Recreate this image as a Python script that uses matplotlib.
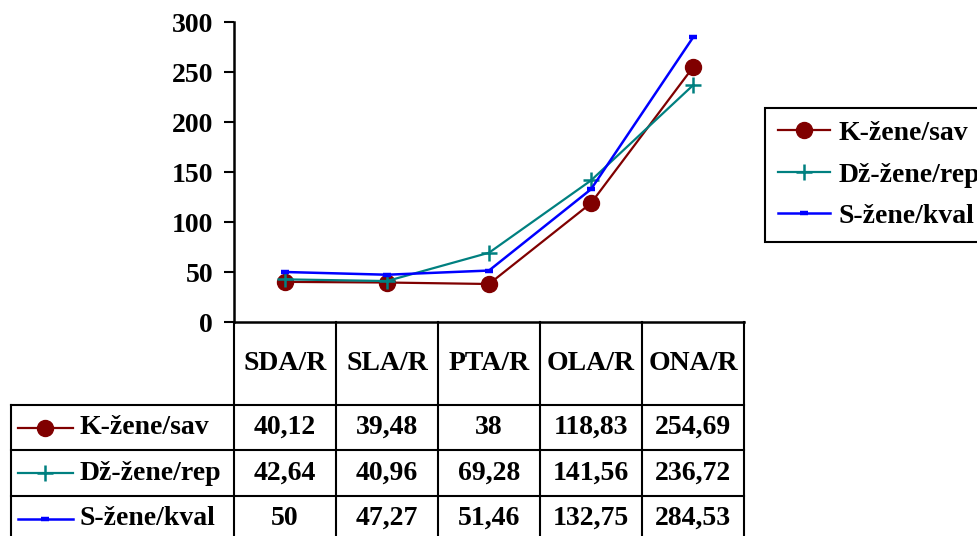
import matplotlib
matplotlib.use('Agg')
import matplotlib.pyplot as plt
from matplotlib.lines import Line2D
import matplotlib.transforms as mtransforms

plt.rcParams['font.family'] = ['Liberation Serif', 'DejaVu Serif']
plt.rcParams['font.weight'] = 'bold'

# podaci
categories = ['SDA/R', 'SLA/R', 'PTA/R', 'OLA/R', 'ONA/R']
k_zene_sav = [40.12, 39.48, 38, 118.83, 254.69]
dz_zene_rep = [42.64, 40.96, 69.28, 141.56, 236.72]
s_zene_kval = [50, 47.27, 51.46, 132.75, 284.53]
series_names = ['K-žene/sav', 'Dž-žene/rep', 'S-žene/kval']
y_ticks = [0, 50, 100, 150, 200, 250, 300]

series = [k_zene_sav, dz_zene_rep, s_zene_kval]
styles = [
    dict(color='#800000', marker='o', markersize=11.5, lw=1.6),
    dict(color='#008080', marker='+', markersize=11, mew=1.8, lw=1.6),
    dict(color='#0000FF', marker='_', markersize=5.5, mew=3.2, lw=1.8),
]

W, H = 978, 536
fig = plt.figure(figsize=(W / 100, H / 100), dpi=100)
ax = fig.add_axes([234 / W, (H - 322) / H, 510 / W, 300 / H])

x = list(range(len(categories)))
for vals, name, st in zip(series, series_names, styles):
    ax.plot(x, vals, label=name, clip_on=False, **st)

ax.set_xlim(-0.5, len(categories) - 0.5)
ax.set_ylim(0, 300)
ax.set_yticks(y_ticks)
ax.set_xticks([])
ax.tick_params(axis='y', direction='out', length=7, width=1.5, pad=8, labelsize=20)
for s in ['top', 'right']:
    ax.spines[s].set_visible(False)
for s in ['left', 'bottom']:
    ax.spines[s].set_linewidth(1.8)
    ax.spines[s].set_color('black')

# tablica podataka ispod grafa
fs = 20
lw = 1.5
blend = mtransforms.blended_transform_factory(ax.transData, ax.transAxes)
px_y = lambda py: (322 - py) / 300.0
px_x = lambda px: (px - 234) / 510.0
row_edges = [px_y(322), px_y(405), px_y(450), px_y(496), px_y(541)]
left_edge = px_x(11)

for i in range(len(categories) + 1):
    ax.plot([i - 0.5, i - 0.5], [row_edges[0], row_edges[-1]], color='black',
            lw=lw, transform=blend, clip_on=False)
ax.plot([left_edge, left_edge], [row_edges[1], row_edges[-1]], color='black',
        lw=lw, transform=ax.transAxes, clip_on=False)
for ye in row_edges[1:]:
    ax.plot([left_edge, 1], [ye, ye], color='black', lw=lw,
            transform=ax.transAxes, clip_on=False)

hy = (row_edges[0] + row_edges[1]) / 2
for i, c in enumerate(categories):
    ax.text(i, hy, c, ha='center', va='center', fontsize=fs,
            fontweight='bold', transform=blend)

for r, (vals, name, st) in enumerate(zip(series, series_names, styles)):
    ry = (row_edges[r + 1] + row_edges[r + 2]) / 2
    for i, v in enumerate(vals):
        ax.text(i, ry, f'{v:g}'.replace('.', ','), ha='center', va='center',
                fontsize=fs, fontweight='bold', transform=blend)
    ln = Line2D([px_x(18), px_x(45.5), px_x(73)], [ry, ry, ry],
                transform=ax.transAxes, clip_on=False, markevery=[1], **st)
    ax.add_line(ln)
    ax.text(px_x(80), ry, name, ha='left', va='center', fontsize=fs,
            fontweight='bold', transform=ax.transAxes)

# legenda (kao u originalu, desni rub izlazi iz slike)
leg = ax.legend(loc='upper left', bbox_to_anchor=(765 / W, 1 - 108 / H),
                bbox_transform=fig.transFigure, borderaxespad=0,
                fancybox=False, framealpha=1, edgecolor='black',
                handlelength=1.9, handletextpad=0.3,
                labelspacing=0.58, borderpad=0.45,
                prop={'weight': 'bold', 'size': fs})
leg.get_frame().set_linewidth(1.5)

fig.savefig('out.png', dpi=100)
